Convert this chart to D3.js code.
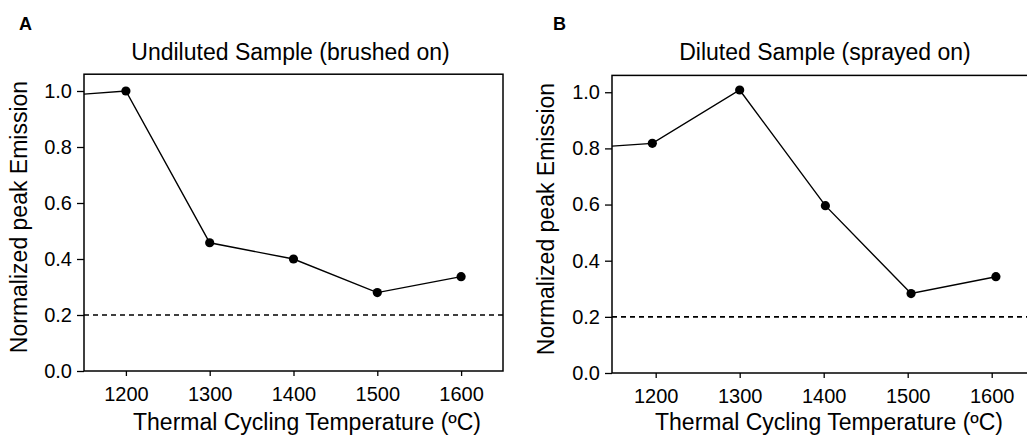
<!DOCTYPE html>
<html>
<head>
<meta charset="utf-8">
<script src="https://cdn.jsdelivr.net/npm/d3@7/dist/d3.min.js"></script>
<style>
  html, body { margin: 0; padding: 0; background: #fff; }
  svg { display: block; font-family: "Liberation Sans", Arial, Helvetica, sans-serif; }
</style>
</head>
<body>
<svg id="chart" width="1027" height="436"></svg>
<script>
// ---- data ----
const xTicks = [1200, 1300, 1400, 1500, 1600];
const yTicks = [0.0, 0.2, 0.4, 0.6, 0.8, 1.0];
const thresholdValue = 0.2;

const undilutedTemps = [1100, 1200, 1300, 1400, 1500, 1600];
const undilutedValues = [0.978, 1.0, 0.458, 0.40, 0.28, 0.337];

const dilutedTemps = [1100, 1196, 1300, 1402, 1504, 1605];
const dilutedValues = [0.798, 0.818, 1.008, 0.596, 0.283, 0.343];

const panelLetters = ["A", "B"];
const panelTitles = ["Undiluted Sample (brushed on)", "Diluted Sample (sprayed on)"];
const xLabel = "Thermal Cycling Temperature (\u00BAC)";
const yLabel = "Normalized peak Emission";

// ---- layout ----
const svg = d3.select("#chart");
const panels = [
  { letter: panelLetters[0], title: panelTitles[0], temps: undilutedTemps, values: undilutedValues,
    xDomain: [1150, 1650], x0: 84, x1: 503, yBottom: 371, yTop: 74.2,
    letterX: 19, titleX: 290.5, xLabelX: 307, yLabelX: 27, yLabelY: 217 },
  { letter: panelLetters[1], title: panelTitles[1], temps: dilutedTemps, values: dilutedValues,
    xDomain: [1148, 1650], x0: 612, x1: 1033.7, yBottom: 373, yTop: 75.4,
    letterX: 553, titleX: 825, xLabelX: 829, yLabelX: 554, yLabelY: 219 }
];

panels.forEach((p, i) => {
  const x = d3.scaleLinear().domain(p.xDomain).range([p.x0, p.x1]);
  const y = d3.scaleLinear().domain([0, 1.06]).range([p.yBottom, p.yTop]);
  const g = svg.append("g");

  // clip
  const clipId = "clip" + i;
  svg.append("clipPath").attr("id", clipId)
    .append("rect")
    .attr("x", p.x0).attr("y", p.yTop)
    .attr("width", p.x1 - p.x0).attr("height", p.yBottom - p.yTop);

  // dashed threshold
  g.append("line")
    .attr("x1", p.x0).attr("x2", p.x1)
    .attr("y1", y(thresholdValue)).attr("y2", y(thresholdValue))
    .attr("stroke", "#000").attr("stroke-width", 1.6)
    .attr("stroke-dasharray", "5,4");

  // series line
  const pts = p.temps.map((t, k) => [t, p.values[k]]);
  g.append("path")
    .datum(pts)
    .attr("clip-path", `url(#${clipId})`)
    .attr("fill", "none").attr("stroke", "#000").attr("stroke-width", 1.4)
    .attr("d", d3.line().x(d => x(d[0])).y(d => y(d[1])));

  g.selectAll("circle.pt")
    .data(pts.filter(d => d[0] >= p.xDomain[0]))
    .join("circle")
    .attr("class", "pt")
    .attr("cx", d => x(d[0])).attr("cy", d => y(d[1]))
    .attr("r", 4.6).attr("fill", "#000");

  // frame
  g.append("rect")
    .attr("x", p.x0).attr("y", p.yTop)
    .attr("width", p.x1 - p.x0).attr("height", p.yBottom - p.yTop)
    .attr("fill", "none").attr("stroke", "#000").attr("stroke-width", 1.5);

  // axes
  const yAxis = d3.axisLeft(y).tickValues(yTicks).tickFormat(d3.format(".1f"))
    .tickSize(7).tickSizeOuter(0).tickPadding(5);
  const ya = g.append("g").attr("transform", `translate(${p.x0},0)`).call(yAxis);
  ya.select(".domain").remove();
  ya.selectAll("line").attr("stroke-width", 1.3);
  ya.selectAll("text").attr("font-size", 20).attr("fill", "#000")
    .attr("font-family", "Liberation Sans, Arial, sans-serif");

  const xAxis = d3.axisBottom(x).tickValues(xTicks).tickFormat(d3.format("d"))
    .tickSize(5).tickSizeOuter(0).tickPadding(11);
  const xa = g.append("g").attr("transform", `translate(0,${p.yBottom})`).call(xAxis);
  xa.select(".domain").remove();
  xa.selectAll("line").attr("stroke-width", 1.3);
  xa.selectAll("text").attr("font-size", 20).attr("fill", "#000")
    .attr("font-family", "Liberation Sans, Arial, sans-serif");

  // texts
  svg.append("text").attr("x", p.letterX).attr("y", 30)
    .attr("font-size", 18).attr("font-weight", "bold").text(p.letter);
  svg.append("text").attr("x", p.titleX).attr("y", 60)
    .attr("text-anchor", "middle").attr("font-size", 23).text(p.title);
  svg.append("text").attr("x", p.xLabelX).attr("y", 430)
    .attr("text-anchor", "middle").attr("font-size", 23).text(xLabel);
  svg.append("text")
    .attr("transform", `translate(${p.yLabelX},${p.yLabelY}) rotate(-90)`)
    .attr("text-anchor", "middle").attr("font-size", 23).text(yLabel);
});
</script>
</body>
</html>
